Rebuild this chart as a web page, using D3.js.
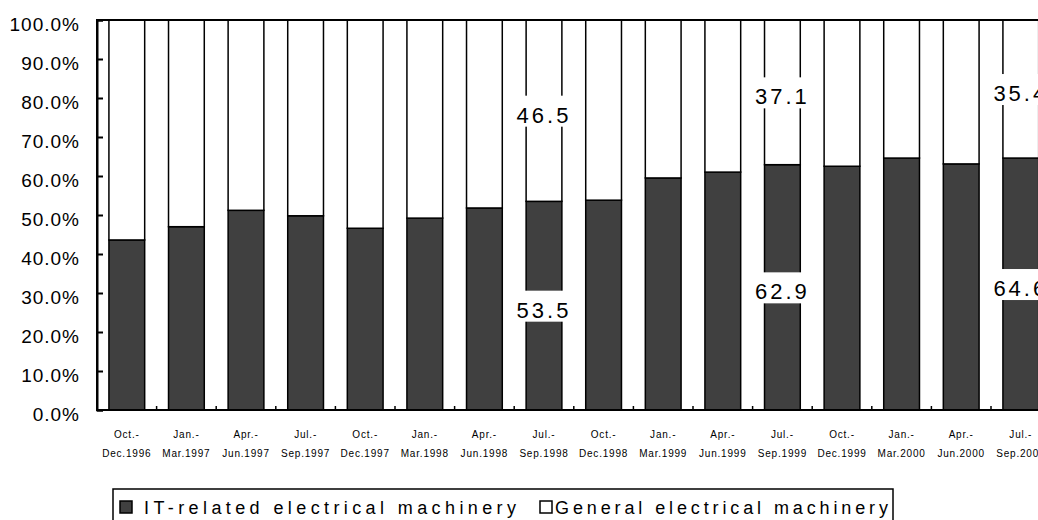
<!DOCTYPE html>
<html><head><meta charset="utf-8">
<script src="https://cdn.jsdelivr.net/npm/d3@7"></script>
<style>
html,body{margin:0;padding:0;background:#fff;overflow:hidden;}
text{font-family:"Liberation Sans",Arial,sans-serif;fill:#000;}
</style></head>
<body>
<svg id="c" width="1038" height="520"></svg>
<script>
const categories = [
  ["Oct.-","Dec.1996"],["Jan.-","Mar.1997"],["Apr.-","Jun.1997"],["Jul.-","Sep.1997"],
  ["Oct.-","Dec.1997"],["Jan.-","Mar.1998"],["Apr.-","Jun.1998"],["Jul.-","Sep.1998"],
  ["Oct.-","Dec.1998"],["Jan.-","Mar.1999"],["Apr.-","Jun.1999"],["Jul.-","Sep.1999"],
  ["Oct.-","Dec.1999"],["Jan.-","Mar.2000"],["Apr.-","Jun.2000"],["Jul.-","Sep.2000"]
];
const itRelated = [43.6, 47.0, 51.2, 49.8, 46.6, 49.2, 51.8, 53.5, 53.8, 59.5, 61.0, 62.9, 62.5, 64.6, 63.1, 64.6];
const general = [56.4, 53.0, 48.8, 50.2, 53.4, 50.8, 48.2, 46.5, 46.2, 40.5, 39.0, 37.1, 37.5, 35.4, 36.9, 35.4];
const labeledIndex = [7, 11, 15];
const yTicks = [0, 10, 20, 30, 40, 50, 60, 70, 80, 90, 100];
const seriesNames = ["IT-related electrical machinery", "General electrical machinery"];

const svg = d3.select("#c");
const L = 97, R = 1050.6, T = 20, B = 410;
const keys = categories.map((c,i)=>i);
const x = d3.scaleBand().domain(keys).range([L, R]).paddingInner(0.4).paddingOuter(0.2);
const y = d3.scaleLinear().domain([0, 100]).range([B, T]);
const step = x.step();
const dark = "#404040";

// bars
const g = svg.append("g");
keys.forEach(i => {
  g.append("rect").attr("x", x(i)).attr("width", x.bandwidth())
    .attr("y", y(itRelated[i])).attr("height", y(0) - y(itRelated[i]))
    .attr("fill", dark).attr("stroke", "#000").attr("stroke-width", 1.5);
  g.append("rect").attr("x", x(i)).attr("width", x.bandwidth())
    .attr("y", y(itRelated[i] + general[i])).attr("height", y(itRelated[i]) - y(itRelated[i] + general[i]))
    .attr("fill", "#fff").attr("stroke", "#000").attr("stroke-width", 1.5);
});

// frame
svg.append("rect").attr("x", L).attr("y", T).attr("width", R - L).attr("height", B - T)
  .attr("fill", "none").attr("stroke", "#000").attr("stroke-width", 2);

// y axis
const yAxis = svg.append("g").attr("transform", `translate(${L},0)`)
  .call(d3.axisLeft(y).tickValues(yTicks).tickSize(-6).tickPadding(17)
    .tickFormat(d => d.toFixed(1) + "%"));
yAxis.select(".domain").attr("stroke-width", 2);
yAxis.selectAll(".tick line").attr("stroke-width", 2);
yAxis.selectAll(".tick text").attr("font-size", 19).attr("letter-spacing", "1px")
  .attr("font-family", "Liberation Sans, Arial, sans-serif").attr("dy", "0.56em").attr("fill", "#111");

// x axis boundary ticks
const bounds = d3.range(1, categories.length + 1);
svg.append("g").selectAll("line").data(bounds).join("line")
  .attr("x1", d => L + d * step).attr("x2", d => L + d * step)
  .attr("y1", B).attr("y2", B - 4).attr("stroke", "#000").attr("stroke-width", 1.5);

// x labels
const xl = svg.append("g");
keys.forEach(i => {
  const cx = x(i) + x.bandwidth() / 2;
  const t = xl.append("text").attr("text-anchor", "middle").attr("font-size", 10).attr("letter-spacing", "0.8px");
  t.append("tspan").attr("x", cx).attr("y", 438).text(categories[i][0]);
  t.append("tspan").attr("x", cx).attr("y", 457).text(categories[i][1]);
});

// data labels
const lab = svg.append("g");
labeledIndex.forEach(i => {
  const cx = x(i) + x.bandwidth() / 2;
  const segs = [
    {v: itRelated[i], mid: itRelated[i] / 2},
    {v: general[i], mid: itRelated[i] + general[i] / 2}
  ];
  segs.forEach(s => {
    const cy = y(s.mid);
    const txt = s.v.toFixed(1);
    const w = 56;
    lab.append("rect").attr("x", cx - w / 2).attr("y", cy - 15).attr("width", w).attr("height", 31).attr("fill", "#fff");
    lab.append("text").attr("x", cx).attr("y", cy + 12).attr("text-anchor", "middle")
      .attr("font-size", 22).attr("letter-spacing", "3px").text(txt);
  });
});

// legend
const lg = svg.append("g");
lg.append("rect").attr("x", 113).attr("y", 489).attr("width", 780).attr("height", 40)
  .attr("fill", "#fff").attr("stroke", "#000").attr("stroke-width", 1.5);
lg.append("rect").attr("x", 120).attr("y", 501).attr("width", 12).attr("height", 12)
  .attr("fill", dark).attr("stroke", "#000").attr("stroke-width", 1.5);
lg.append("text").attr("x", 144).attr("y", 514).attr("font-size", 18)
  .attr("textLength", 372).attr("lengthAdjust", "spacing").text(seriesNames[0]);
lg.append("rect").attr("x", 540).attr("y", 501).attr("width", 12).attr("height", 12)
  .attr("fill", "#fff").attr("stroke", "#000").attr("stroke-width", 1.5);
lg.append("text").attr("x", 555).attr("y", 514).attr("font-size", 18)
  .attr("textLength", 333).attr("lengthAdjust", "spacing").text(seriesNames[1]);
</script>
</body></html>
